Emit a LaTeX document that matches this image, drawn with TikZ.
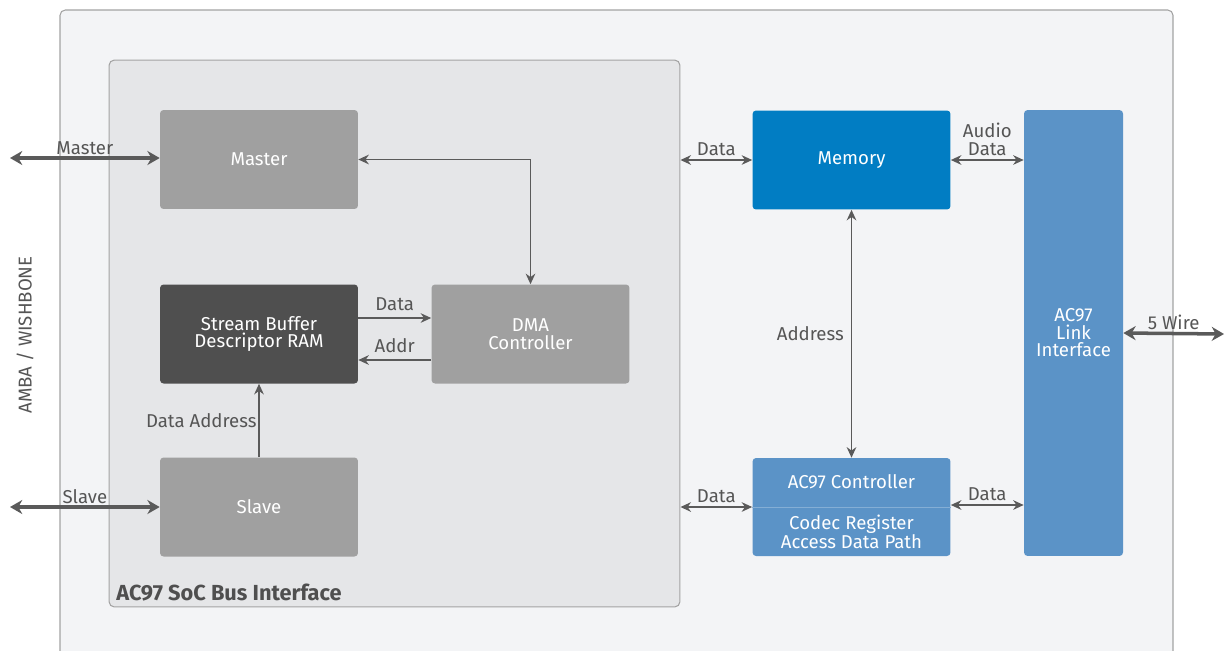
\documentclass[tikz,border=0pt]{standalone}
\usepackage{fontspec}
\setmainfont{Fira Sans}
\usetikzlibrary{positioning}
\usetikzlibrary{arrows.meta}

\definecolor{outerfill}{HTML}{F3F4F6}
\definecolor{innerfill}{HTML}{E5E6E8}
\definecolor{framegray}{HTML}{A3A3A3}
\definecolor{blockgray}{HTML}{A0A0A0}
\definecolor{blockdark}{HTML}{4F4F4F}
\definecolor{memblue}{HTML}{017DC3}
\definecolor{lightblue}{HTML}{5B93C7}
\definecolor{wiregray}{HTML}{5A5A5A}
\definecolor{labelgray}{HTML}{555555}

\begin{document}
\begin{tikzpicture}[x=0.02cm, y=-0.02cm,
                font=\fontsize{10.6}{10}\selectfont,
                block/.style={rectangle, rounded corners=2pt, fill=blockgray, text=white, align=center, inner sep=0pt, minimum width=3.96cm, minimum height=1.98cm},
                darkblock/.style={block, fill=blockdark},
                memblock/.style={block, fill=memblue},
                blueblock/.style={block, fill=lightblue},
                inlabel/.style={text=white, align=center, inner sep=1pt},
                lbl/.style={text=labelgray, align=center, inner sep=2pt},
                wire/.style={draw=wiregray, line width=0.8pt, {Stealth[length=6pt, width=5.5pt]}-{Stealth[length=6pt, width=5.5pt]}},
                onewire/.style={draw=wiregray, line width=0.8pt, -{Stealth[length=6pt, width=5.5pt]}},
                bigwire/.style={draw=wiregray, line width=2pt, {Stealth[length=7pt, width=8pt]}-{Stealth[length=7pt, width=8pt]}},
            ]
            \clip (0,0) rectangle (1226,650);

            % Frames
            \draw[draw=framegray, fill=outerfill, line width=0.6pt, rounded corners=3pt] (60,10) rectangle (1173,680);
            \node[draw=framegray, fill=innerfill, line width=0.6pt, rounded corners=3pt, minimum width=11.42cm, minimum height=10.94cm, inner sep=0pt] (soc) at (394.5,333.5) {};
            \node[anchor=south west, text=blockdark, font=\fontsize{12.4}{13}\selectfont\bfseries, inner sep=0pt] (busname) at (116,601) {AC97 SoC Bus Interface};

            % Nodes
            \node[block]        (master)    at (259,159.5)      {Master};
            \node[darkblock]    (sbdr)      at (259,334)        {Stream Buffer\\Descriptor RAM};
            \node[block]        (dma)       at (530.5,334)      {DMA\\Controller};
            \node[block]        (slave)     at (259,507)        {Slave};

            \node[memblock]     (memory)    at (851.5,160)      {Memory};
            \node[blueblock, minimum height=1.96cm] (ctrlbox) at (851.5,507) {};
            \node[inlabel]      (ctrl)      at (851.5,482)      {AC97 Controller};
            \node[inlabel]      (codec)     at (851.5,532)      {Codec Register\\Access Data Path};
            \node[blueblock, minimum width=1.98cm, minimum height=8.92cm] (link) at (1073.5,333) {AC97\\Link\\Interface};

            \node[lbl, rotate=90] (amba)    at (25,335)         {AMBA / WISHBONE};

            \coordinate (masterExt) at (10,158);
            \coordinate (slaveExt)  at (10,507);
            \coordinate (wireExt)   at (1224,334);

            %Lines
            \draw[draw=white!25!lightblue, line width=0.5pt] (ctrlbox.west) -- (ctrlbox.east);

            \draw[bigwire] (masterExt) -- (masterExt -| master.west) node[lbl, midway, above=-1pt] {Master};
            \draw[bigwire] (slaveExt) -- (slaveExt -| slave.west) node[lbl, midway, above=-1pt] {Slave};
            \draw[bigwire] (link.east) -- (wireExt) node[lbl, midway, above=-1pt] {5 Wire};

            \draw[wire] (master.east) -| (dma.north);
            \draw[onewire] ([yshift=0.32cm]sbdr.east) -- ([yshift=0.32cm]dma.west) node[lbl, midway, above=2pt] {Data};
            \draw[onewire] ([yshift=-0.52cm]dma.west) -- ([yshift=-0.52cm]sbdr.east) node[lbl, midway, above=2pt] {Addr};
            \draw[onewire] (slave.north) -- (sbdr.south) node[lbl, midway, left=-1pt] {Data Address};

            \draw[wire] (soc.east |- memory.west) -- (memory.west) node[lbl, midway, above=0pt] {Data};
            \draw[wire] (memory.east) -- (memory.east -| link.west) node[lbl, midway, above=0pt] {Audio\\Data};
            \draw[wire] (memory.south) -- (ctrlbox.north) node[lbl, midway, left=2pt] {Address};
            \draw[wire] (soc.east |- ctrlbox.west) -- (ctrlbox.west) node[lbl, midway, above=0pt] {Data};
            \draw[wire] ([yshift=0.04cm]ctrlbox.east) -- ([yshift=0.04cm]ctrlbox.east -| link.west) node[lbl, midway, above=0pt] {Data};
        \end{tikzpicture}
\end{document}
